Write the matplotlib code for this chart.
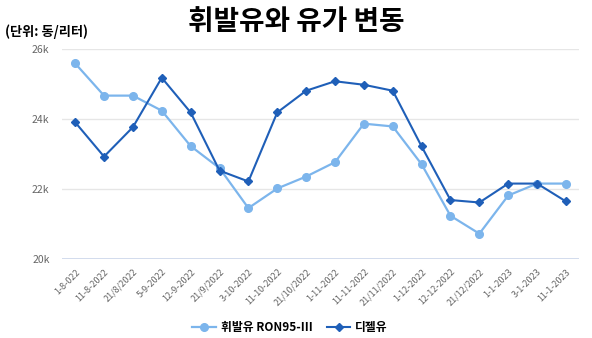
import matplotlib
matplotlib.use("Agg")
import matplotlib.pyplot as plt

plt.rcParams['font.family'] = ['Noto Sans CJK KR', 'DejaVu Sans']

dates = ["1-8-022", "11-8-2022", "21/8/2022", "5-9-2022", "12-9-2022", "21/9/2022",
         "3-10-2022", "11-10-2022", "21/10/2022", "1-11-2022", "11-11-2022", "21/11/2022",
         "1-12-2022", "12-12-2022", "21/12/2022", "1-1-2023", "3-1-2023", "11-1-2023"]
gasoline = [25580, 24660, 24660, 24230, 23220, 22590, 21450, 22010, 22350,
            22760, 23860, 23780, 22700, 21230, 20720, 21810, 22150, 22150]
diesel = [23900, 22920, 23760, 25170, 24180, 22520, 22210, 24180, 24800,
          25070, 24970, 24800, 23210, 21680, 21610, 22150, 22150, 21640]
yticks = [20000, 22000, 24000, 26000]
ytick_labels = ["20k", "22k", "24k", "26k"]

fig = plt.figure(figsize=(5.92, 3.38), dpi=100)
ax = fig.add_axes([0.105, 0.234, 0.873, 0.622])

x = list(range(len(dates)))
ax.plot(x, gasoline, color="#7cb5ec", lw=1.6, marker="o", ms=5.5,
        label="휘발유 RON95-III", zorder=3)
ax.plot(x, diesel, color="#1f5fb8", lw=1.5, marker="D", ms=3.8,
        label="디젤유", zorder=4)

ax.set_ylim(20000, 26000)
ax.set_xlim(-0.45, len(dates) - 0.55)
ax.set_yticks(yticks)
ax.set_yticklabels(ytick_labels, fontsize=7.5, color="#666666")
ax.set_xticks(x)
ax.set_xticklabels(dates, rotation=45, ha="right", rotation_mode="anchor",
                   fontsize=6.5, color="#666666")
ax.tick_params(axis="both", length=0)
ax.tick_params(axis="y", pad=9)
ax.tick_params(axis="x", pad=6)
for s in ax.spines.values():
    s.set_visible(False)
ax.grid(axis="y", color="#e6e6e6", lw=1)
ax.axhline(20000, color="#ccd6eb", lw=1.2, zorder=2)

fig.text(0.5, 0.935, "휘발유와 유가 변동", ha="center", va="center",
         fontsize=20, fontweight="heavy")
fig.text(0.008, 0.905, "(단위: 동/리터)", ha="left", va="center",
         fontsize=9.5, fontweight="bold")

fig.legend(loc="center", bbox_to_anchor=(0.49, 0.03), ncol=2, frameon=False,
           prop={"size": 8.5, "weight": "bold"}, handlelength=2, columnspacing=1.2,
           handletextpad=0.4)

fig.savefig("out.png", dpi=100)
